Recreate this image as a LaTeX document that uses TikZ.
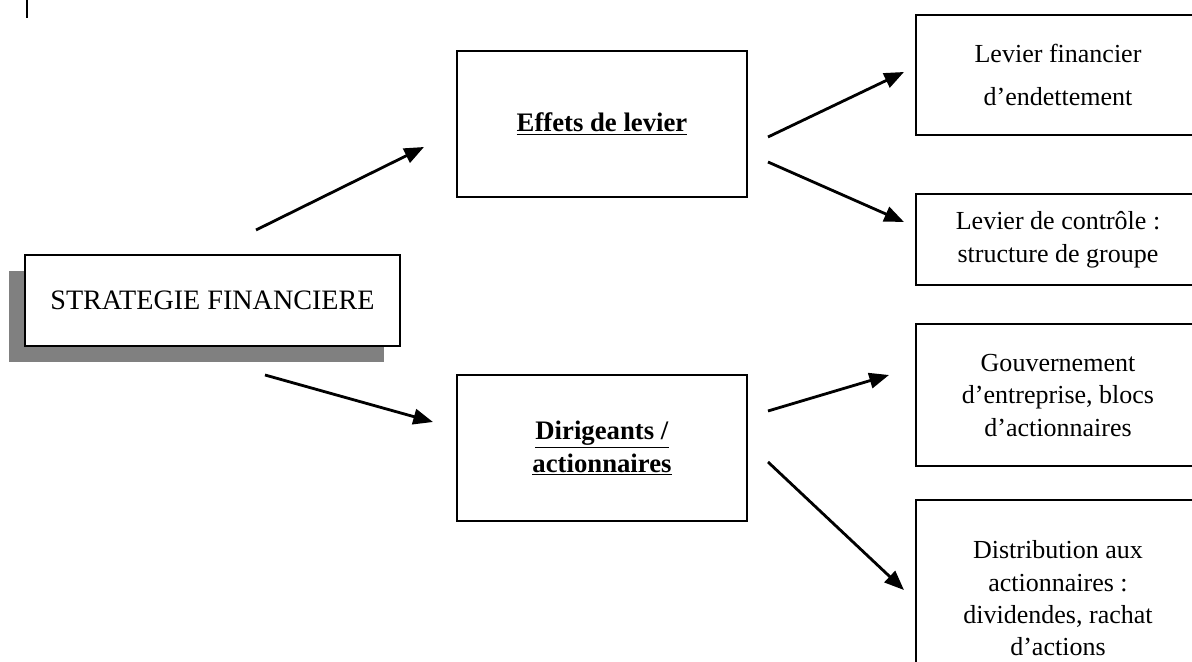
\documentclass[tikz,border=0pt]{standalone}
\usepackage{fontspec}
\setmainfont{Liberation Serif}
\usetikzlibrary{positioning,shadows,arrows.meta}

\begin{document}
\begin{tikzpicture}[x=0.025cm, y=-0.025cm, >={Triangle[length=14pt,width=11pt]}]

        % Styles
        \tikzstyle{boite}=[rectangle, draw, fill=white, line width=1.5pt, align=center, inner sep=0pt, font=\fontsize{19}{23}\selectfont]
        \tikzstyle{droite}=[boite, minimum width=7.1cm, font=\fontsize{18.5}{23}\selectfont]
        \tikzstyle{fleche}=[->, line width=2pt]

        \useasboundingbox (0,0) rectangle (1192,662);
        \clip (0,0) rectangle (1192,662);

        \draw[line width=2pt] (27,0) -- (27,18);

        % Noeuds
        \node[boite, minimum width=9.375cm, minimum height=2.275cm, font=\fontsize{20}{24}\selectfont,
              drop shadow={shadow xshift=-0.39cm, shadow yshift=-0.4cm, opacity=1, fill=black!50}] (strat) at (212.5,300.5) {STRATEGIE FINANCIERE};
        \node[boite, minimum width=7.25cm, minimum height=3.65cm] (effets) at (602,124) {\underline{\textbf{Effets de levier}}};
        \node[boite, minimum width=7.25cm, minimum height=3.65cm, below=4.4cm of effets] (dirig) {\underline{\textbf{Dirigeants /}}\\\underline{\textbf{actionnaires}}};

        \node[droite, minimum height=3cm] (lev1) at (1058,75) {Levier financier\\[7pt]d’endettement};
        \node[droite, minimum height=2.275cm, below=1.425cm of lev1] (lev2) {Levier de contrôle :\\structure de groupe};
        \node[droite, minimum height=3.55cm, below=0.925cm of lev2] (gouv) {Gouvernement\\d’entreprise, blocs\\d’actionnaires};
        \node[droite, minimum height=4.9cm, below=0.8cm of gouv] (distr) {Distribution aux\\actionnaires :\\dividendes, rachat\\d’actions};

        % Bouts des flèches
        \coordinate (s1) at (256,230); \coordinate (e1) at (424,147);
        \coordinate (s2) at (265,375); \coordinate (e2) at (433,422);
        \coordinate (s3) at (768,137); \coordinate (e3) at (904,72);
        \coordinate (s4) at (768,162); \coordinate (e4) at (904,222);
        \coordinate (s5) at (768,411); \coordinate (e5) at (889,375);
        \coordinate (s6) at (768,462); \coordinate (e6) at (904,590);

        % Flèches
        \draw[fleche] (s1) -- (e1);
        \draw[fleche] (s2) -- (e2);
        \draw[fleche] (s3) -- (e3);
        \draw[fleche] (s4) -- (e4);
        \draw[fleche] (s5) -- (e5);
        \draw[fleche] (s6) -- (e6);

    \end{tikzpicture}
\end{document}
